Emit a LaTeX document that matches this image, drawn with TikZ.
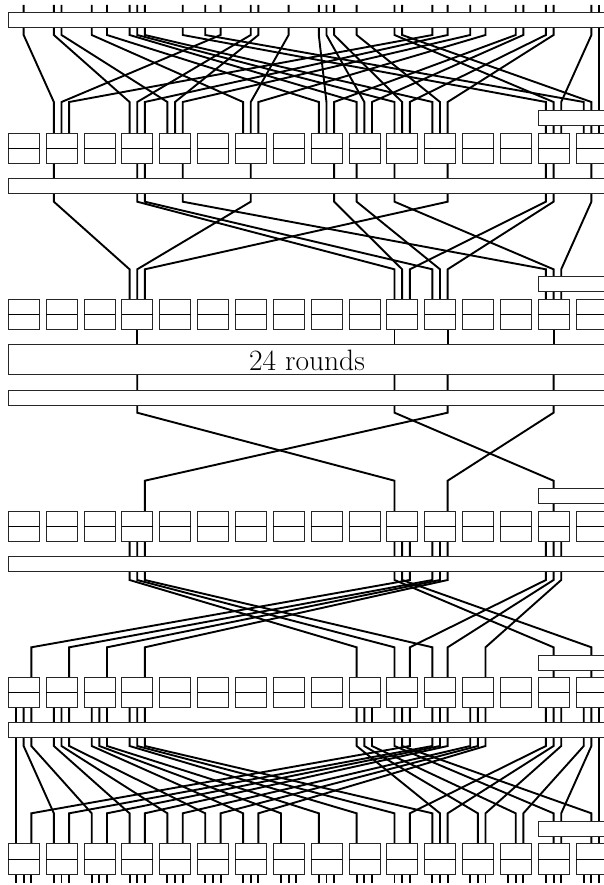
\documentclass[tikz,border=0pt]{standalone}
\tikzset{
  wire/.style={line width=1.9pt,black,line join=miter},
  boxstyle/.style={draw=black!85,line width=0.9pt,fill=white,inner sep=0pt,outer sep=0pt,anchor=north west},
  sbox/.style={boxstyle,minimum width=31pt,minimum height=30.4pt},
  longbar/.style={boxstyle,minimum width=620pt,minimum height=15pt},
  shortbar/.style={boxstyle,minimum width=90pt,minimum height=15pt},
  roundsbar/.style={boxstyle,minimum width=620pt,minimum height=30pt},
  midline/.style={line width=0.9pt,black}
}
\newcommand{\slotx}[2]{\pgfmathsetmacro#1{16+37.85*floor(#2/3)+7.65*mod(#2,3)}}
% layer id, y top, y bend 1, y bend 2, y bottom, source slots
\newcommand{\wirelayer}[6]{%
  \foreach \s in {#6}{%
    \pgfmathtruncatemacro\dst{\s==47?47:mod(3*\s,47)}%
    \slotx\xa{\s}\slotx\xb{\dst}%
    \coordinate (w#1-\s-a) at (\xa,#2);
    \coordinate (w#1-\s-b) at (\xa,#3);
    \coordinate (w#1-\s-c) at (\xb,#4);
    \coordinate (w#1-\s-d) at (\xb,#5);
    \draw[wire] (w#1-\s-a) -- (w#1-\s-b) -- (w#1-\s-c) -- (w#1-\s-d);
  }%
}
\newcommand{\stubs}[4]{%
  \foreach \s in {#4}{%
    \slotx\xa{\s}%
    \coordinate (s#1-\s-a) at (\xa,#2);
    \coordinate (s#1-\s-b) at (\xa,#3);
    \draw[wire] (s#1-\s-a) -- (s#1-\s-b);
  }%
}
\newcommand{\boxrow}[2]{%
  \foreach \b in {0,...,15}{%
    \node[sbox] (box#1-\b) at ({8.3+37.85*\b},#2) {};
    \draw[midline] (box#1-\b.west) -- (box#1-\b.east);
  }%
}
\begin{document}
\begin{tikzpicture}[x=1pt,y=-1pt]
\useasboundingbox (0,0) rectangle (604,885);
\clip (0,0) rectangle (604,885);
\fill[white] (0,0) rectangle (604,885);
% wires
\wirelayer{A}{5}{35}{102}{133}{1,3,4,6,8,9,10,11,14,15,17,19,20,22,24,25,26,27,30,31,33,35,36,38,40,41,42,43,46,47}
\wirelayer{B}{163}{201.7}{269.3}{299.3}{3,10,11,14,19,26,27,30,35,42,43,46}
\stubs{R}{330}{345}{10,30,35,43}
\wirelayer{C}{374.7}{412.7}{480.7}{511.3}{10,30,35,43}
\wirelayer{D}{541.7}{580}{647.3}{677.3}{9,10,11,30,31,32,33,34,35,42,43,44}
\wirelayer{E}{707.7}{746}{813.3}{844}{0,1,2,3,4,5,6,7,8,9,10,11,27,28,29,30,31,32,33,34,35,36,37,38,42,43,44,45,46,47}
\stubs{Z}{874}{882.5}{0,1,2,3,4,5,6,7,8,9,10,11,12,13,14,15,16,17,18,19,20,21,22,23,24,25,26,27,28,29,30,31,32,33,34,35,36,37,38,39,40,41,42,43,44,45,46,47}
% long bars
\node[longbar] (bar1) at (8.3,12.3) {};
\node[longbar] (bar2) at (8.3,178.5) {};
\node[roundsbar] (rounds) at (8.3,344.7) {};
\node[font=\fontsize{29.5}{32}\selectfont] (roundslabel) at (307,360) {24 rounds};
\node[longbar] (bar3) at (8.3,390.2) {};
\node[longbar] (bar4) at (8.3,556.7) {};
\node[longbar] (bar5) at (8.3,722.9) {};
% short bars
\node[shortbar] (short1) at (538.2,110) {};
\node[shortbar] (short2) at (538.2,276.8) {};
\node[shortbar] (short3) at (538.2,488.6) {};
\node[shortbar] (short4) at (538.2,655) {};
\node[shortbar] (short5) at (538.2,821.3) {};
% s-box rows
\boxrow{1}{133}
\boxrow{2}{299.4}
\boxrow{3}{511.3}
\boxrow{4}{677.3}
\boxrow{5}{843.8}
\end{tikzpicture}
\end{document}
